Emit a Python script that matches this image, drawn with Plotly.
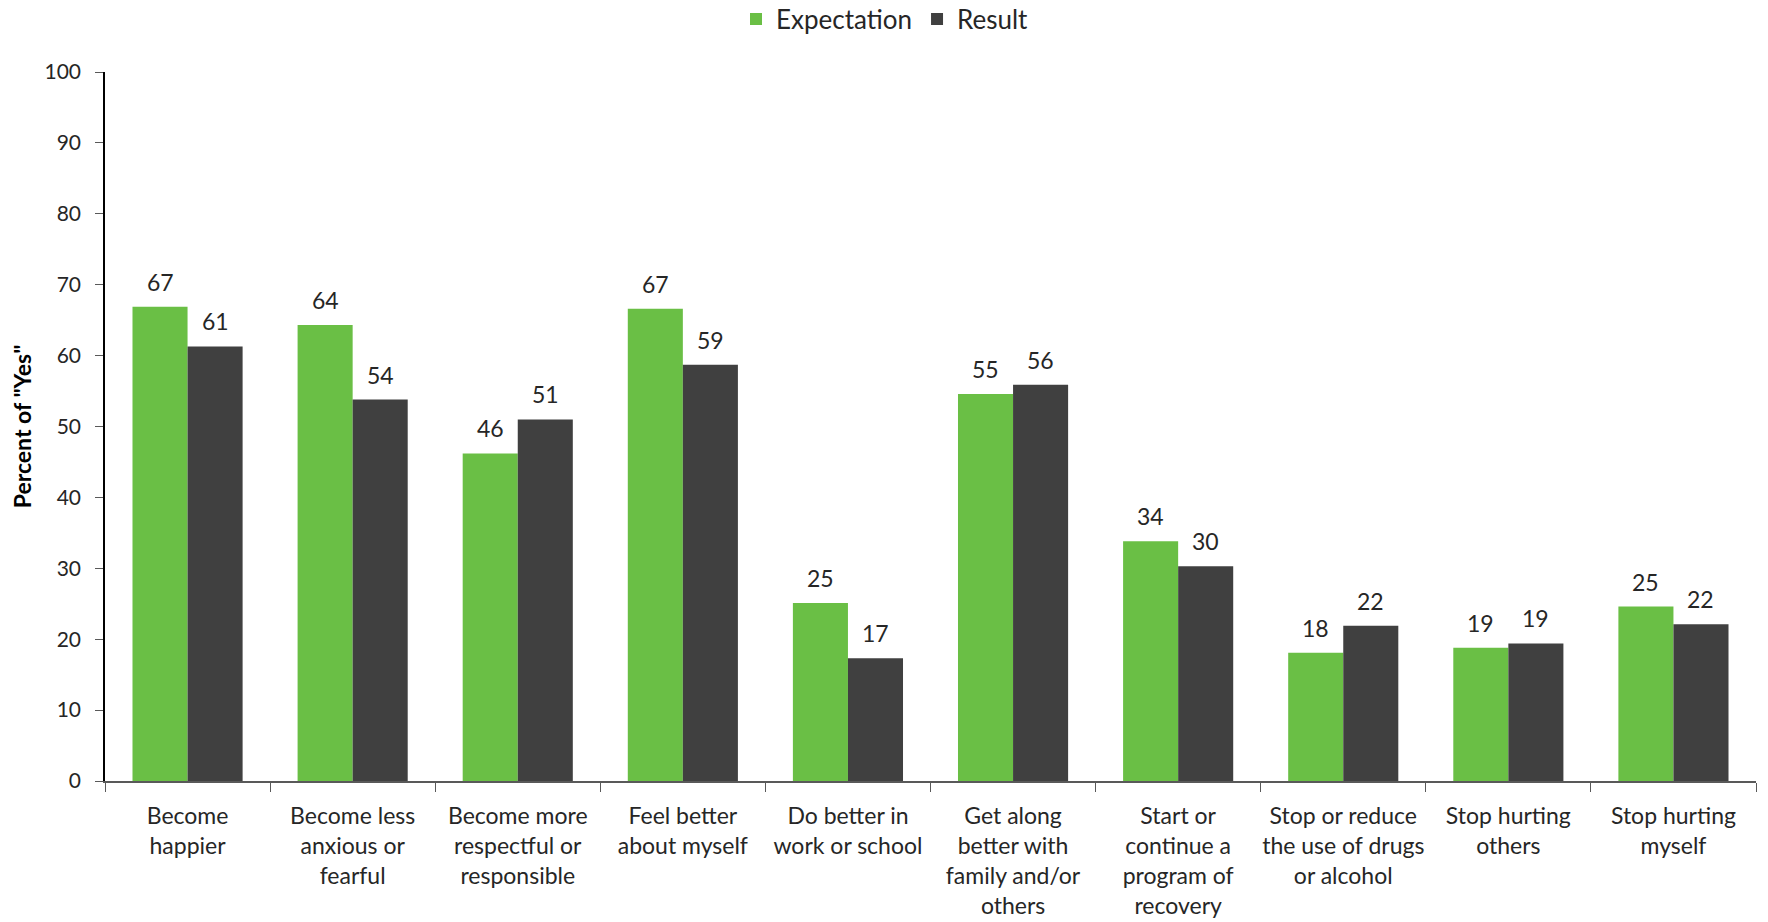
import plotly.graph_objects as go

categories = [
    "Become<br>happier",
    "Become less<br>anxious or<br>fearful",
    "Become more<br>respectful or<br>responsible",
    "Feel better<br>about myself",
    "Do better in<br>work or school",
    "Get along<br>better with<br>family and/or<br>others",
    "Start or<br>continue a<br>program of<br>recovery",
    "Stop or reduce<br>the use of drugs<br>or alcohol",
    "Stop hurting<br>others",
    "Stop hurting<br>myself",
]
expectation = [66.9, 64.3, 46.2, 66.6, 25.1, 54.6, 33.8, 18.1, 18.8, 24.6]
result = [61.3, 53.8, 51.0, 58.7, 17.3, 55.9, 30.3, 21.9, 19.4, 22.1]

FONT = "Lato"
TXT = "#262626"
W, H = 1768, 922

fig = go.Figure()
fig.add_trace(go.Bar(
    name="Expectation", x=categories, y=expectation,
    marker=dict(color="#6abf45", line=dict(width=0)),
))
fig.add_trace(go.Bar(
    name="Result", x=categories, y=result,
    marker=dict(color="#404040", line=dict(width=0)),
))

# value labels above bars
for series, shift in ((expectation, -27.5), (result, 27.5)):
    for c, v in zip(categories, series):
        fig.add_annotation(
            x=c, y=v, xref="x", yref="y", text=f"{v:.0f}", showarrow=False,
            xshift=shift, yshift=9, yanchor="bottom",
            font=dict(size=23, color=TXT, family=FONT),
        )

fig.update_layout(
    width=W, height=H,
    margin=dict(l=105, r=12, t=72, b=141),
    paper_bgcolor="white", plot_bgcolor="white",
    barmode="group", bargap=0.333, bargroupgap=0,
    font=dict(family=FONT, size=20, color=TXT),
    legend=dict(orientation="h", x=885 / W, xref="container", xanchor="center",
                y=1 - 19 / H, yref="container", yanchor="middle",
                font=dict(size=26, color=TXT, family=FONT),
                itemwidth=30, traceorder="normal"),
    showlegend=True,
)
fig.update_xaxes(
    showline=True, linecolor="#595959", linewidth=1.5,
    ticks="outside", tickson="boundaries", ticklen=9, tickcolor="#595959",
    tickfont=dict(size=23, color=TXT, family=FONT), showgrid=False,
    tickangle=0, automargin=False, ticklabelstandoff=14,
)
fig.update_yaxes(
    range=[0, 100], dtick=10, tick0=0,
    showline=True, linecolor="#000000", linewidth=1.5,
    ticks="outside", ticklen=8, tickcolor="#595959",
    tickfont=dict(size=21, color=TXT, family=FONT), showgrid=False,
    ticklabelstandoff=10, automargin=False,
    title=dict(text='Percent of "Yes"', font=dict(size=23, color="#000000", family=FONT, weight="bold"),
               standoff=6),
    zeroline=False,
)

fig.write_html(
    "out.html",
    config={"displayModeBar": False},
    post_script="document.body.style.margin='0';document.body.style.overflow='hidden';",
)
